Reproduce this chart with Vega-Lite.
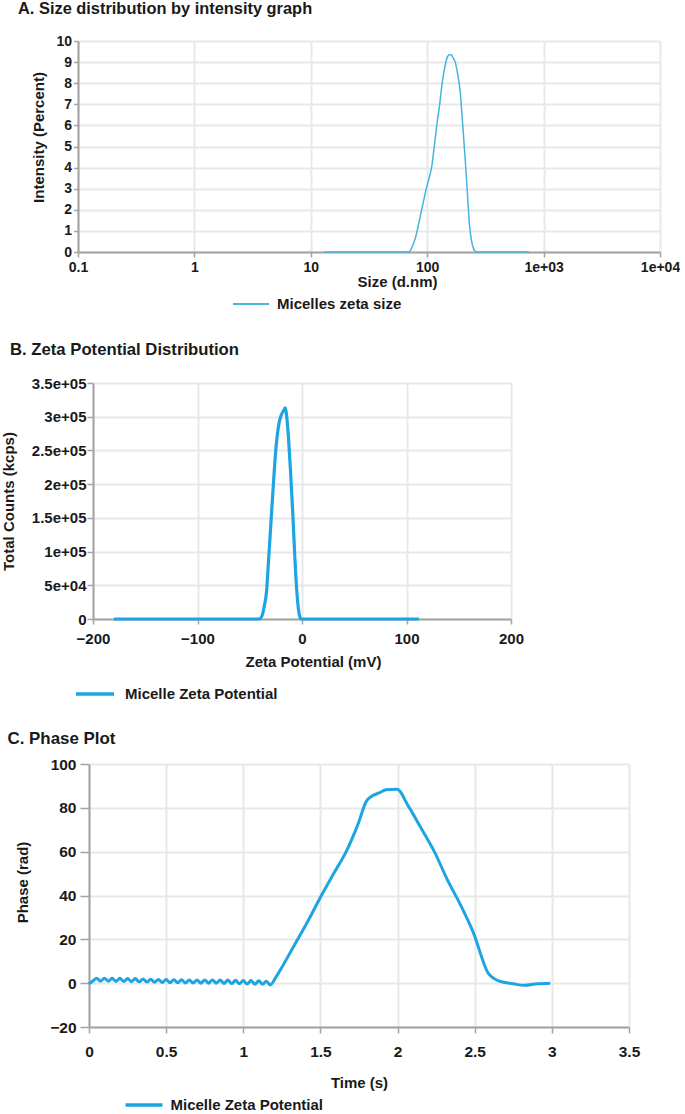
{
  "$schema": "https://vega.github.io/schema/vega-lite/v6.json",
  "padding": {"left": 0, "top": 0, "right": 0, "bottom": 0},
  "background": "white",
  "spacing": 28,
  "config": {
    "font": "Liberation Sans",
    "view": {"stroke": null},
    "axis": {
      "labelFont": "Liberation Sans", "titleFont": "Liberation Sans",
      "labelFontWeight": "bold", "titleFontWeight": "bold",
      "labelColor": "#1a1a1a", "titleColor": "#1a1a1a",
      "labelFontSize": 15, "titleFontSize": 15,
      "gridColor": "#e8e8e8", "gridWidth": 2,
      "domainColor": "#a3a3a3", "domainWidth": 2,
      "tickColor": "#a3a3a3", "tickWidth": 1.5,
      "labelOverlap": false, "labelFlush": false, "labelBound": false
    },
    "legend": {
      "labelFont": "Liberation Sans", "labelFontWeight": "bold", "labelFontSize": 15,
      "labelColor": "#1a1a1a", "padding": 0, "symbolType": "stroke", "title": null
    },
    "title": {"anchor": "start", "frame": "group", "font": "Liberation Sans", "fontSize": 16, "fontWeight": "bold", "color": "#1a1a1a"}
  },
  "vconcat": [
    {
      "spacing": 0,
      "resolve": {"scale": {"color": "independent"}},
      "hconcat": [
        {"width": 18, "height": 1, "data": {"values": []}, "mark": {"type": "rule"}, "encoding": {}},
        {
          "width": 582, "height": 211,
          "title": {"text": "A. Size distribution by intensity graph", "dx": -60, "offset": 17, "fontSize": 16.4},
          "data": {"values": [
            {"size": 13, "intensity": 0}, {"size": 20, "intensity": 0}, {"size": 30, "intensity": 0},
            {"size": 40, "intensity": 0}, {"size": 50, "intensity": 0}, {"size": 60, "intensity": 0},
            {"size": 68, "intensity": 0}, {"size": 71, "intensity": 0.05}, {"size": 75, "intensity": 0.3},
            {"size": 79, "intensity": 0.65}, {"size": 85, "intensity": 1.4}, {"size": 90, "intensity": 2.06},
            {"size": 95, "intensity": 2.65}, {"size": 100, "intensity": 3.17}, {"size": 105, "intensity": 3.6},
            {"size": 110, "intensity": 4.13}, {"size": 115, "intensity": 5.0}, {"size": 121, "intensity": 6.03},
            {"size": 128, "intensity": 7.0}, {"size": 134, "intensity": 7.94}, {"size": 141, "intensity": 8.7},
            {"size": 148, "intensity": 9.2}, {"size": 155, "intensity": 9.35}, {"size": 161, "intensity": 9.35},
            {"size": 167, "intensity": 9.2}, {"size": 174, "intensity": 9.0}, {"size": 183, "intensity": 8.4},
            {"size": 192, "intensity": 7.6}, {"size": 202, "intensity": 6.0}, {"size": 212, "intensity": 4.4},
            {"size": 222, "intensity": 2.7}, {"size": 231, "intensity": 1.27}, {"size": 240, "intensity": 0.55},
            {"size": 250, "intensity": 0.16}, {"size": 260, "intensity": 0.02}, {"size": 268, "intensity": 0},
            {"size": 300, "intensity": 0}, {"size": 400, "intensity": 0}, {"size": 500, "intensity": 0},
            {"size": 600, "intensity": 0}, {"size": 750, "intensity": 0}
          ]},
          "mark": {"type": "line", "interpolate": "monotone", "strokeWidth": 1.5},
          "encoding": {
            "x": {"field": "size", "type": "quantitative",
              "scale": {"type": "log", "domain": [0.1, 10000]},
              "axis": {"values": [0.1, 1, 10, 100, 1000, 10000],
                "labelExpr": "datum.value >= 1000 ? replace(format(datum.value, '~e'), 'e+', 'e+0') : format(datum.value, '~g')",
                "title": "Size (d.nm)", "titleX": 319, "tickSize": 5, "labelPadding": 3, "titlePadding": 0, "labelFontSize": 14}},
            "y": {"field": "intensity", "type": "quantitative",
              "scale": {"domain": [0, 10]},
              "axis": {"values": [0,1,2,3,4,5,6,7,8,9,10], "title": "Intensity (Percent)",
                "tickSize": 4.5, "labelPadding": 2, "titlePadding": 9, "labelFontSize": 14, "titleY": 96}},
            "color": {"datum": "Micelles zeta size",
              "scale": {"range": ["#45b4e3"]},
              "legend": {"orient": "none", "legendX": 153.5, "legendY": 243.5, "padding": 0.5, "symbolSize": 1296, "symbolStrokeWidth": 2, "labelOffset": 7}}
          }
        }
      ]
    },
    {
      "spacing": 0,
      "resolve": {"scale": {"color": "independent"}},
      "hconcat": [
        {"width": 1, "height": 1, "data": {"values": []}, "mark": {"type": "rule"}, "encoding": {}},
        {
          "width": 418, "height": 236,
          "title": {"text": "B. Zeta Potential Distribution", "dx": -83, "offset": 17.5, "fontSize": 16.7},
          "data": {"values": [
            {"mv": -180, "counts": 0}, {"mv": -120, "counts": 0}, {"mv": -80, "counts": 0},
            {"mv": -50, "counts": 0}, {"mv": -41, "counts": 0}, {"mv": -38, "counts": 6000},
            {"mv": -36, "counts": 20000}, {"mv": -34, "counts": 40000}, {"mv": -32, "counts": 87000},
            {"mv": -30, "counts": 136000}, {"mv": -28, "counts": 185000}, {"mv": -26, "counts": 232000},
            {"mv": -24, "counts": 268000}, {"mv": -22, "counts": 290000}, {"mv": -20, "counts": 302000},
            {"mv": -18, "counts": 308000}, {"mv": -16, "counts": 313000}, {"mv": -15, "counts": 305000},
            {"mv": -13, "counts": 270000}, {"mv": -11, "counts": 220000}, {"mv": -9, "counts": 162000},
            {"mv": -7, "counts": 96000}, {"mv": -5, "counts": 42000}, {"mv": -3, "counts": 10000},
            {"mv": -1, "counts": 0}, {"mv": 10, "counts": 0}, {"mv": 50, "counts": 0}, {"mv": 112, "counts": 0}
          ]},
          "mark": {"type": "line", "interpolate": "monotone", "strokeWidth": 3.2, "strokeJoin": "round"},
          "encoding": {
            "x": {"field": "mv", "type": "quantitative",
              "scale": {"domain": [-200, 200]},
              "axis": {"values": [-200, -100, 0, 100, 200], "title": "Zeta Potential (mV)", "titleX": 220,
                "tickSize": 5, "labelPadding": 7, "titlePadding": 8}},
            "y": {"field": "counts", "type": "quantitative",
              "scale": {"domain": [0, 350000]},
              "axis": {"values": [0, 50000, 100000, 150000, 200000, 250000, 300000, 350000],
                "labelExpr": "datum.value == 0 ? '0' : replace(format(datum.value, '~e'), 'e+', 'e+0')",
                "title": "Total Counts (kcps)", "tickSize": 6, "labelPadding": 1, "titlePadding": 15}},
            "color": {"datum": "Micelle Zeta Potential",
              "scale": {"range": ["#1ca5e2"]},
              "legend": {"orient": "none", "legendX": -19, "legendY": 290, "symbolSize": 1444, "symbolStrokeWidth": 3.5, "labelOffset": 9}}
          }
        }
      ]
    },
    {
      "spacing": 0,
      "resolve": {"scale": {"color": "independent"}},
      "hconcat": [
        {"width": 7, "height": 1, "data": {"values": []}, "mark": {"type": "rule"}, "encoding": {}},
        {
          "width": 540, "height": 263,
          "title": {"text": "C. Phase Plot", "dx": -81.5, "offset": 9, "fontSize": 16.9},
          "data": {"values": [
            {"t": 0, "phase": -0.3}, {"t": 0.025, "phase": 1.0}, {"t": 0.05, "phase": 2.2}, {"t": 0.075, "phase": 0.9},
            {"t": 0.1, "phase": 2.3}, {"t": 0.125, "phase": 0.9}, {"t": 0.15, "phase": 2.2}, {"t": 0.175, "phase": 0.8},
            {"t": 0.2, "phase": 2.2}, {"t": 0.225, "phase": 0.8}, {"t": 0.25, "phase": 2.1}, {"t": 0.275, "phase": 0.7},
            {"t": 0.3, "phase": 2.1}, {"t": 0.325, "phase": 0.6}, {"t": 0.35, "phase": 1.9}, {"t": 0.375, "phase": 0.5},
            {"t": 0.4, "phase": 1.8}, {"t": 0.425, "phase": 0.4}, {"t": 0.45, "phase": 1.7}, {"t": 0.475, "phase": 0.3},
            {"t": 0.5, "phase": 1.7}, {"t": 0.525, "phase": 0.2}, {"t": 0.55, "phase": 1.6}, {"t": 0.575, "phase": 0.2},
            {"t": 0.6, "phase": 1.6}, {"t": 0.625, "phase": 0.1}, {"t": 0.65, "phase": 1.5}, {"t": 0.675, "phase": 0.1},
            {"t": 0.7, "phase": 1.5}, {"t": 0.725, "phase": 0.0}, {"t": 0.75, "phase": 1.5}, {"t": 0.775, "phase": 0.0},
            {"t": 0.8, "phase": 1.5}, {"t": 0.825, "phase": 0.0}, {"t": 0.85, "phase": 1.4}, {"t": 0.875, "phase": -0.1},
            {"t": 0.9, "phase": 1.4}, {"t": 0.925, "phase": -0.2}, {"t": 0.95, "phase": 1.3}, {"t": 0.975, "phase": -0.3},
            {"t": 1.0, "phase": 1.2}, {"t": 1.025, "phase": -0.4}, {"t": 1.05, "phase": 1.2}, {"t": 1.075, "phase": -0.5},
            {"t": 1.1, "phase": 1.1}, {"t": 1.125, "phase": -0.5}, {"t": 1.15, "phase": 0.9}, {"t": 1.175, "phase": -0.8},
            {"t": 1.21, "phase": 2.5}, {"t": 1.244, "phase": 6.5}, {"t": 1.33, "phase": 17.2}, {"t": 1.415, "phase": 27.8},
            {"t": 1.5, "phase": 39.2}, {"t": 1.585, "phase": 49.9}, {"t": 1.67, "phase": 60.5}, {"t": 1.74, "phase": 71.9},
            {"t": 1.8, "phase": 83.3}, {"t": 1.84, "phase": 85.6}, {"t": 1.88, "phase": 86.8}, {"t": 1.926, "phase": 88.2},
            {"t": 1.997, "phase": 88.5}, {"t": 2.068, "phase": 81}, {"t": 2.15, "phase": 71}, {"t": 2.24, "phase": 59.8},
            {"t": 2.32, "phase": 47.6}, {"t": 2.41, "phase": 35.4}, {"t": 2.49, "phase": 23.3}, {"t": 2.59, "phase": 4.3},
            {"t": 2.66, "phase": 0.9}, {"t": 2.75, "phase": -0.3}, {"t": 2.82, "phase": -1}, {"t": 2.906, "phase": -0.3},
            {"t": 2.99, "phase": 0}
          ]},
          "mark": {"type": "line", "interpolate": "monotone", "strokeWidth": 3, "strokeJoin": "round"},
          "encoding": {
            "x": {"field": "t", "type": "quantitative",
              "scale": {"domain": [0, 3.5]},
              "axis": {"values": [0, 0.5, 1, 1.5, 2, 2.5, 3, 3.5], "format": "~g", "title": "Time (s)",
                "tickSize": 6, "labelPadding": 11, "titlePadding": 16, "labelFontSize": 15.5}},
            "y": {"field": "phase", "type": "quantitative",
              "scale": {"domain": [-20, 100]},
              "axis": {"values": [-20, 0, 20, 40, 60, 80, 100], "title": "Phase (rad)", "titleY": 118,
                "tickSize": 9, "labelPadding": 4, "titlePadding": 19, "labelFontSize": 15.5}},
            "color": {"datum": "Micelle Zeta Potential",
              "scale": {"range": ["#1ca5e2"]},
              "legend": {"orient": "none", "legendX": 34.5, "legendY": 320.5, "symbolSize": 1369, "symbolStrokeWidth": 3.5, "labelOffset": 6}}
          }
        }
      ]
    }
  ],
  "resolve": {"scale": {"color": "independent"}}
}
